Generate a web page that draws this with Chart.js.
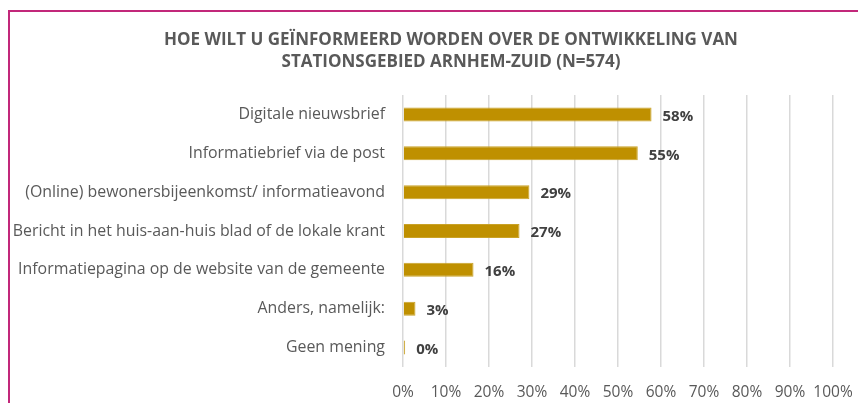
<!DOCTYPE html>
<html>
<head>
<meta charset="utf-8">
<script src="https://cdn.jsdelivr.net/npm/chart.js@4"></script>
<style>
  html, body { margin: 0; padding: 0; background: #fff; }
  #wrap { position: relative; width: 858px; height: 403px; overflow: hidden; }
  #frame { position: absolute; left: 8px; top: 10px; width: 900px; height: 450px;
    border-top: 2px solid #C2287A; border-left: 2px solid #C2287A; }
  canvas { position: absolute; left: 0; top: 0; }
</style>
</head>
<body>
<div id="wrap">
  <div id="frame"></div>
  <canvas id="myChart" width="858" height="403"></canvas>
</div>
<script>
// survey answers (percent of respondents)
const categories = [
  'Digitale nieuwsbrief',
  'Informatiebrief via de post',
  '(Online) bewonersbijeenkomst/ informatieavond',
  'Bericht in het huis-aan-huis blad of de lokale krant',
  'Informatiepagina op de website van de gemeente',
  'Anders, namelijk:',
  'Geen mening'
];
const values = [57.8, 54.6, 29.4, 27.1, 16.4, 2.9, 0.5];
const valueLabels = ['58%', '55%', '29%', '27%', '16%', '3%', '0%'];
const titleLines = [
  'HOE WILT U GE\u00CFNFORMEERD WORDEN OVER DE ONTWIKKELING VAN',
  'STATIONSGEBIED ARNHEM-ZUID (N=574)'
];

// title sits a bit right of the page centre, like in the original
const titleText = {
  id: 'titleText',
  afterDraw(chart) {
    const ctx = chart.ctx;
    ctx.save();
    ctx.font = 'bold 17px "Open Sans"';
    ctx.fillStyle = '#595959';
    ctx.textAlign = 'center';
    ctx.textBaseline = 'middle';
    titleLines.forEach((line, i) => ctx.fillText(line, 451, 40 + i * 22));
    ctx.restore();
  }
};

const barLabels = {
  id: 'barLabels',
  afterDatasetsDraw(chart) {
    const ctx = chart.ctx;
    const meta = chart.getDatasetMeta(0);
    ctx.save();
    ctx.font = 'bold 15px "Open Sans"';
    ctx.fillStyle = '#404040';
    ctx.textAlign = 'left';
    ctx.textBaseline = 'middle';
    meta.data.forEach((bar, i) => {
      ctx.fillText(valueLabels[i], bar.x + 11, bar.y + 2);
    });
    ctx.restore();
  }
};

const ctx = document.getElementById('myChart').getContext('2d');
new Chart(ctx, {
  type: 'bar',
  data: {
    labels: categories,
    datasets: [{
      data: values,
      backgroundColor: '#BF9000',
      borderColor: '#C9A227',
      borderWidth: 1,
      barPercentage: 0.36,
      categoryPercentage: 1
    }]
  },
  options: {
    indexAxis: 'y',
    responsive: false,
    animation: false,
    layout: { padding: { left: 0, right: 0, top: 95, bottom: 0 } },
    plugins: {
      legend: { display: false },
      tooltip: { enabled: false },
      title: { display: false }
    },
    scales: {
      x: {
        min: 0,
        max: 100,
        grid: { color: '#D9D9D9', lineWidth: 1.5, drawTicks: false },
        border: { display: false },
        afterFit(scale) {
          scale.height = 36;
          scale.paddingLeft = 0;
          scale.paddingRight = 25;
        },
        ticks: {
          stepSize: 10,
          padding: 16,
          maxRotation: 0,
          autoSkip: false,
          color: '#595959',
          font: { family: 'Open Sans', size: 15.5 },
          callback: v => v + '%'
        }
      },
      y: {
        grid: { display: false, drawTicks: false },
        border: { display: false },
        afterFit(scale) { scale.width = 403; },
        ticks: {
          padding: 18,
          color: '#595959',
          font: { family: 'Open Sans', size: 15.9 }
        }
      }
    }
  },
  plugins: [barLabels, titleText]
});
</script>
</body>
</html>
